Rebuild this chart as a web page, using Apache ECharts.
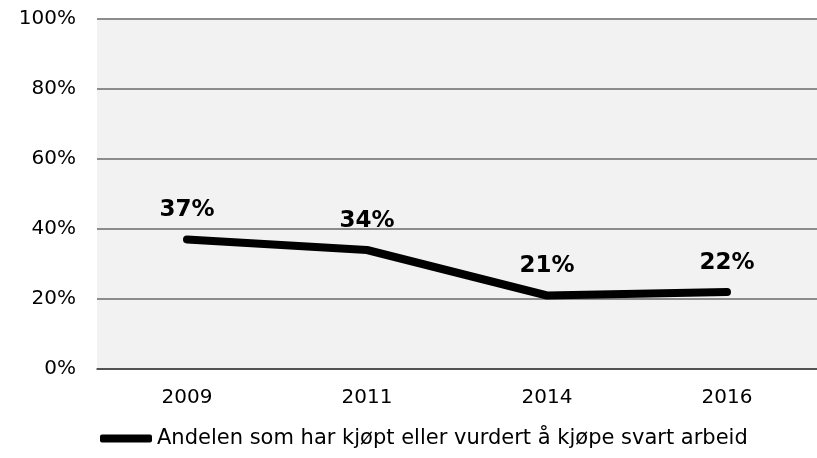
<!DOCTYPE html>
<html>
<head>
<meta charset="utf-8">
<script src="https://cdn.jsdelivr.net/npm/echarts@6/dist/echarts.min.js"></script>
<style>
  html, body { margin: 0; padding: 0; background: #fff; }
  #chart { width: 817px; height: 458px; }
</style>
</head>
<body>
<div id="chart"></div>
<script>
let myChart = echarts.init(document.getElementById('chart'))

// data
const years = ['2009', '2011', '2014', '2016']
const andel = [37, 34, 21, 22]
const yTicks = [0, 20, 40, 60, 80, 100]
const seriesName = 'Andelen som har kjøpt eller vurdert å kjøpe svart arbeid'

const font = '"DejaVu Sans"'

let opt = {
  animation: false,
  grid: {
    left: 97,
    top: 19,
    width: 730,
    height: 350,
    show: true,
    backgroundColor: '#f2f2f2',
    borderWidth: 0
  },
  legend: {
    data: [seriesName],
    left: 100,
    top: 428,
    padding: 0,
    icon: 'roundRect',
    itemWidth: 52,
    itemHeight: 8,
    itemStyle: { color: '#000' },
    textStyle: { fontFamily: font, fontSize: 21, color: '#000' }
  },
  xAxis: {
    type: 'category',
    data: years,
    boundaryGap: true,
    axisLine: { lineStyle: { color: '#404040', width: 1.5 } },
    axisTick: { show: false },
    axisLabel: { fontFamily: font, fontSize: 20, color: '#000', margin: 19 }
  },
  yAxis: {
    type: 'value',
    min: yTicks[0],
    max: yTicks[yTicks.length - 1],
    interval: 20,
    axisLine: { show: false },
    axisTick: { show: false },
    splitLine: { lineStyle: { color: '#8c8c8c', width: 2 } },
    axisLabel: {
      fontFamily: font, fontSize: 20, color: '#000', margin: 21,
      formatter: v => v + '%'
    }
  },
  series: [{
    name: seriesName,
    type: 'line',
    data: andel,
    symbol: 'circle',
    symbolSize: 1,
    itemStyle: { color: '#000' },
    lineStyle: { color: '#000', width: 8, cap: 'round', join: 'round' },
    label: {
      show: true,
      position: 'top',
      distance: 17,
      fontFamily: font,
      fontSize: 23,
      fontWeight: 'bold',
      color: '#000',
      formatter: p => p.value + '%'
    }
  }]
}

myChart.setOption(opt)
</script>
</body>
</html>
